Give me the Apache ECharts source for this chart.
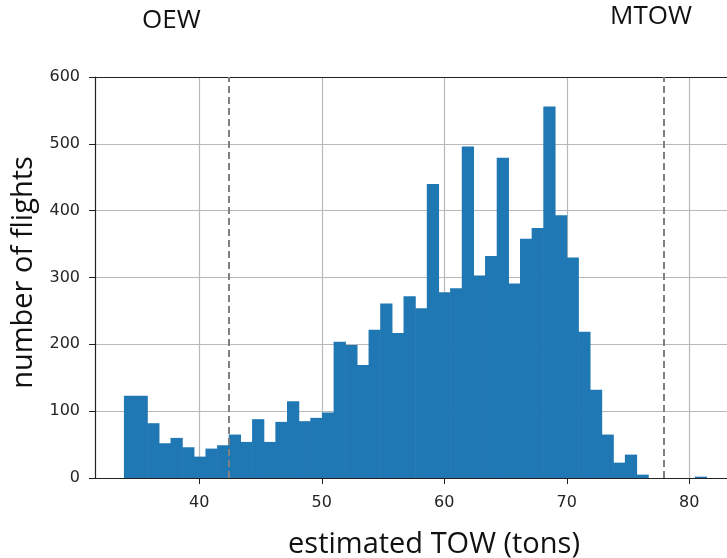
<!DOCTYPE html>
<html>
<head>
<meta charset="utf-8">
<script src="https://cdn.jsdelivr.net/npm/echarts@6/dist/echarts.min.js"></script>
<style>
  html, body { margin: 0; padding: 0; background: #fff; }
  #chart { width: 727px; height: 558px; }
</style>
</head>
<body>
<div id="chart"></div>
<script>
// Histogram of estimated take-off weight (tons), 50 equal-width bins
const binStart = 33.85;
const binWidth = 0.951;
const flightCounts = [
  123, 123, 82, 52, 60, 46, 32, 44, 49, 65,
  54, 88, 54, 84, 115, 85, 90, 98, 204, 199,
  169, 222, 261, 217, 272, 254, 440, 278, 284, 496,
  303, 332, 479, 291, 358, 374, 556, 393, 330, 219,
  132, 65, 23, 35, 5, 0, 0, 0, 0, 2
];
// Reference weights marked with dashed lines
const refNames = ['OEW', 'MTOW'];
const refWeights = [42.4, 77.9];
const xTicks = [40, 50, 60, 70, 80];
const yTicks = [0, 100, 200, 300, 400, 500, 600];

const xMin = 31.49, xMax = 83.08;

const bins = flightCounts.map((c, i) => [binStart + i * binWidth, binStart + (i + 1) * binWidth, c]);

const chart = echarts.init(document.getElementById('chart'), null, { renderer: 'canvas' });

const tickFont = { fontFamily: 'DejaVu Sans', fontSize: 16, color: '#262626' };
const titleFont = { fontFamily: 'Open Sans', fontSize: 29, color: '#111' };

chart.setOption({
  animation: false,
  backgroundColor: '#ffffff',
  grid: { left: 95, right: 0, top: 77, bottom: 80, outerBoundsMode: 'none', containLabel: false },
  xAxis: [{
    type: 'value',
    min: xMin,
    max: xMax,
    position: 'bottom',
    name: 'estimated TOW (tons)',
    nameLocation: 'middle',
    nameGap: 52,
    nameTextStyle: Object.assign({ padding: [0, 0, 0, 46] }, titleFont),
    axisLine: { show: true, onZero: false, lineStyle: { color: '#222', width: 1.2 } },
    axisTick: { show: true, length: 6, customValues: xTicks, lineStyle: { color: '#222' } },
    axisLabel: Object.assign({ margin: 17, customValues: xTicks }, tickFont),
    splitLine: { show: true, lineStyle: { color: '#b8b8b8', width: 1.2 } }
  }, {
    type: 'value',
    min: xMin,
    max: xMax,
    position: 'top',
    axisLine: { show: true, onZero: false, lineStyle: { color: '#222', width: 1.2 } },
    axisTick: { show: false },
    axisLabel: { show: false },
    splitLine: { show: false }
  }],
  yAxis: {
    type: 'value',
    min: yTicks[0],
    max: yTicks[yTicks.length - 1],
    interval: 100,
    name: 'number of flights',
    nameLocation: 'middle',
    nameGap: 48,
    nameTextStyle: Object.assign({ padding: [0, 0, 0, 10] }, titleFont),
    axisLine: { show: true, lineStyle: { color: '#222', width: 1.2 } },
    axisTick: { show: true, length: 6, lineStyle: { color: '#222' } },
    axisLabel: Object.assign({ margin: 15 }, tickFont),
    splitLine: { show: true, lineStyle: { color: '#b8b8b8', width: 1.2 } }
  },
  graphic: [
    { type: 'text', left: 142, top: 8, style: { text: refNames[0], font: '26px "Open Sans"', fill: '#111' } },
    { type: 'text', left: 610, top: 4, style: { text: refNames[1], font: '26px "Open Sans"', fill: '#111' } }
  ],
  series: [{
    type: 'custom',
    xAxisIndex: 0,
    data: bins,
    renderItem: function (params, api) {
      const p0 = api.coord([api.value(0), api.value(2)]);
      const p1 = api.coord([api.value(1), 0]);
      // widen each bar slightly so neighbouring bins join without seams
      return {
        type: 'rect',
        shape: { x: p0[0], y: p0[1], width: p1[0] - p0[0] + 0.6, height: p1[1] - p0[1] },
        style: { fill: '#1f77b4' }
      };
    },
    markLine: {
      silent: true,
      symbol: 'none',
      label: { show: false },
      lineStyle: { color: '#808080', type: [7, 4], width: 2 },
      data: refWeights.map(w => ({ xAxis: w }))
    },
    z: 3
  }]
});
</script>
</body>
</html>
